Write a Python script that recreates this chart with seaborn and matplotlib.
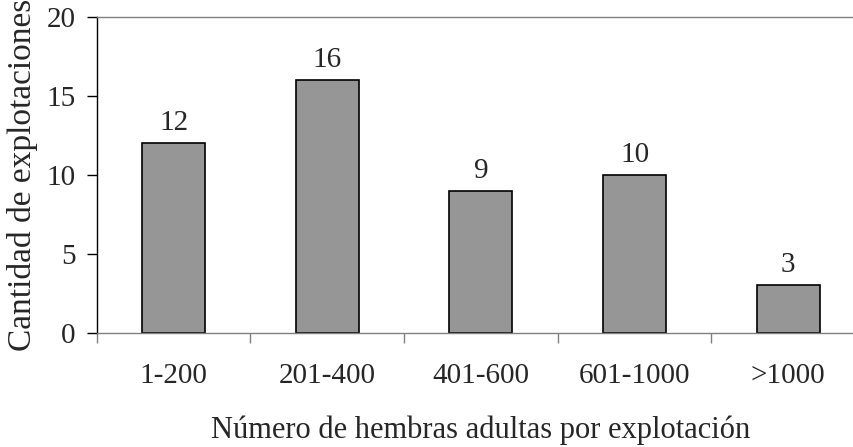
import matplotlib
matplotlib.use("Agg")
import matplotlib.pyplot as plt
import seaborn as sns
import pandas as pd

# datos del gráfico
categorias = ["1-200", "201-400", "401-600", "601-1000", ">1000"]
explotaciones = [12, 16, 9, 10, 3]
y_ticks = [0, 5, 10, 15, 20]


def main():
    sns.set_style("white")
    plt.rcParams['font.family'] = ['Liberation Serif', 'DejaVu Serif']

    df = pd.DataFrame({"rango": categorias, "n": explotaciones})

    fig = plt.figure(figsize=(8.54, 4.47), dpi=100)
    ax = fig.add_axes([0.1132, 0.2557, 0.8997, 0.7069])

    sns.barplot(data=df, x="rango", y="n", color="#969696", saturation=1,
                edgecolor="black", linewidth=1.2, width=0.41, ax=ax)

    # etiquetas sobre las barras
    for c in ax.containers:
        ax.bar_label(c, padding=5, fontsize=21)

    ax.set_ylim(0, 20)
    ax.set_xlim(-0.5, 4.5)
    ax.set_yticks(y_ticks)
    ax.tick_params(axis="y", direction="out", length=7, width=1, color="black",
                   labelsize=21, pad=8, left=True)

    # ticks mayores en los limites de categoria, etiquetas en los menores
    ax.set_xticks([i - 0.5 for i in range(len(categorias) + 1)])
    ax.set_xticklabels([])
    ax.set_xticks(range(len(categorias)), minor=True)
    ax.set_xticklabels(categorias, minor=True)
    ax.tick_params(axis="x", which="major", direction="out", length=7, width=1,
                   color="#808080", bottom=True)
    ax.tick_params(axis="x", which="minor", length=0, labelsize=21, pad=22)

    ax.set_xlabel("Número de hembras adultas por explotación", fontsize=22, labelpad=19)
    ax.set_ylabel("Cantidad de explotaciones", fontsize=24, labelpad=6)

    for s in ["left", "top", "bottom"]:
        ax.spines[s].set_visible(True)
    ax.spines["right"].set_visible(False)
    ax.spines["left"].set_color("black")
    ax.spines["top"].set_color("#808080")
    ax.spines["bottom"].set_color("#808080")
    for s in ax.spines.values():
        s.set_linewidth(1)
    ax.grid(False)

    fig.savefig("out.png", dpi=100)
    plt.close(fig)


if __name__ == "__main__":
    main()
